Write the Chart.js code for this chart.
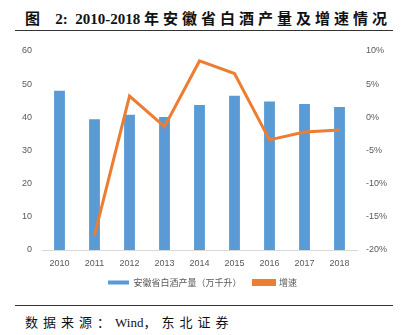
<!DOCTYPE html>
<html>
<head>
<meta charset="utf-8">
<script src="https://cdn.jsdelivr.net/npm/chart.js@4"></script>
<style>
  body{margin:0;background:#fff;width:405px;height:335px;position:relative;overflow:hidden;}
  #title{position:absolute;left:25px;top:7px;font:bold 15px "Liberation Serif","Noto Sans CJK SC";color:#111;white-space:nowrap;}
  #title .cjk{font-family:"Noto Sans CJK SC";letter-spacing:4px;}
  #topLine{position:absolute;left:15px;top:30px;width:378px;height:0;border-top:1.5px solid #333;}
  #box{position:absolute;left:0;top:0;width:405px;height:300px;}
  #botLine{position:absolute;left:15px;top:305px;width:378px;height:0;border-top:1.5px solid #333;}
  #source{position:absolute;left:25px;top:312px;font:13px "Liberation Serif","Noto Sans CJK SC";color:#111;white-space:nowrap;}
  #source .cjk{font-family:"Noto Sans CJK SC";letter-spacing:5px;}
</style>
</head>
<body>
<div id="title"><span class="cjk">图</span>&nbsp;&nbsp;&nbsp;2:&nbsp; 2010-2018 <span class="cjk">年安徽省白酒产量及增速情况</span></div>
<div id="topLine"></div>
<div id="box"><canvas id="myChart"></canvas></div>
<div id="botLine"></div>
<div id="source"><span class="cjk">数据来源：</span>Wind<span class="cjk">，东北证券</span></div>
<script>
// data
const years = ["2010","2011","2012","2013","2014","2015","2016","2017","2018"];
const output = [48.0, 39.4, 40.8, 40.1, 43.7, 46.5, 44.8, 44.0, 43.1];
const growth = [null, -17.8, 3.2, -1.4, 8.5, 6.6, -3.4, -2.2, -1.9];
const outputName = "安徽省白酒产量（万千升）";
const growthName = "增速";

const tickFont = {family: "Liberation Sans", size: 9};

var config = {
	type: 'bar',
	data: {
		labels: years,
		datasets: [{
			label: outputName,
			data: output,
			backgroundColor: "#5B9BD5",
			borderWidth: 0,
			barPercentage: 0.31,
			categoryPercentage: 1,
			yAxisID: 'y',
			order: 1
		},{
			type: 'line',
			label: growthName,
			data: growth,
			borderColor: "#ED7D31",
			backgroundColor: "#ED7D31",
			borderWidth: 3,
			pointRadius: 0,
			tension: 0,
			yAxisID: 'y1',
			order: 0
		}]
	},
	options: {
		responsive: true,
		maintainAspectRatio: false,
		animation: false,
		layout: {padding: {top: 51, bottom: 3, left: 0, right: 0}},
		plugins: {
			tooltip: {enabled: false},
			legend: {
				position: 'bottom',
				labels: {
					font: {family: "Noto Sans CJK SC", size: 9},
					color: "#595959",
					boxWidth: 21,
					boxHeight: 4,
					padding: 12,
					sort: (a, b) => a.datasetIndex - b.datasetIndex
				}
			}
		},
		scales: {
			x: {
				grid: {display: false, drawTicks: false},
				border: {display: true, color: "#D9D9D9", width: 1},
				ticks: {font: tickFont, color: "#595959", padding: 8, maxRotation: 0},
				afterFit: s => { s.height = 16; }
			},
			y: {
				position: 'left',
				min: 0, max: 60,
				grid: {display: false, drawTicks: false},
				border: {display: false},
				ticks: {stepSize: 10, font: tickFont, color: "#595959", padding: 10},
				afterFit: s => { s.width = 42; }
			},
			y1: {
				position: 'right',
				min: -20, max: 10,
				grid: {display: false, drawTicks: false},
				border: {display: false},
				ticks: {stepSize: 5, font: tickFont, color: "#595959", padding: 9, callback: v => v + "%"},
				afterFit: s => { s.width = 48; }
			}
		}
	}
};
new Chart(document.getElementById("myChart"), config);
</script>
</body>
</html>
